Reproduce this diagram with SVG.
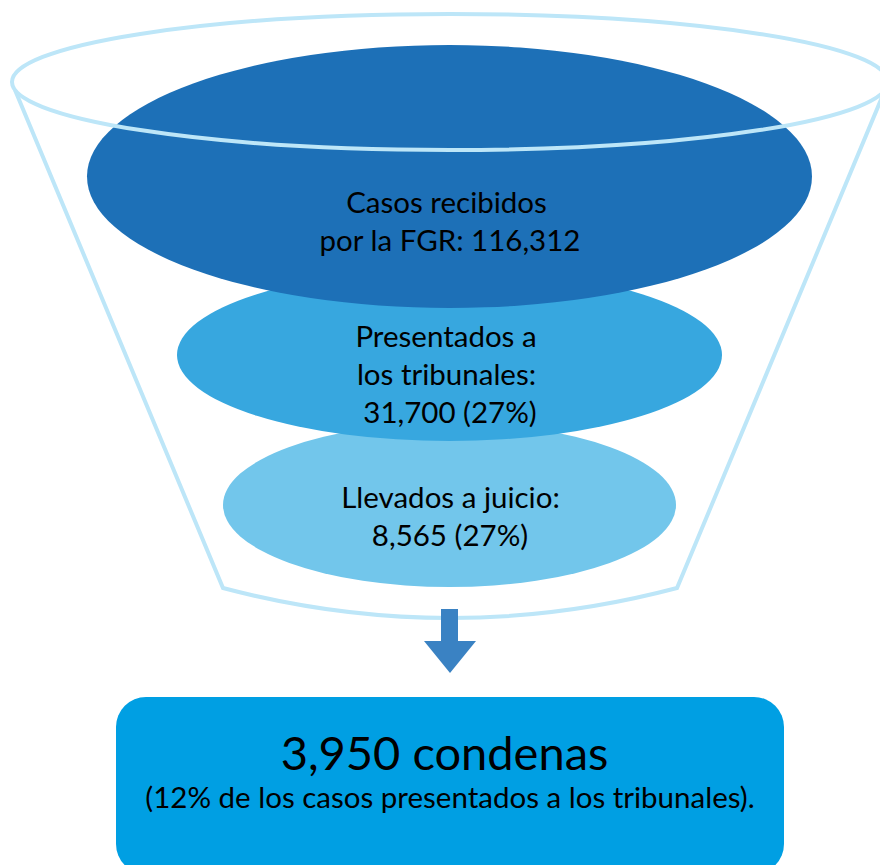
<svg xmlns="http://www.w3.org/2000/svg" width="880" height="865" viewBox="0 0 880 865">
<style>
.t{font-family:Lato,"Liberation Sans",sans-serif;fill:#000;text-anchor:middle}
.m{font-size:29.5px}
.rim{fill:none;stroke:#BDE6F8;stroke-width:4}
</style>
<rect width="880" height="865" fill="#fff"/>
<g id="funnel-body">
<path class="rim" d="M15,90 L223,588 Q450,648 677,588 L885,90"/>
</g>
<g id="stage3">
<ellipse cx="449.5" cy="505" rx="226.5" ry="82" fill="#72C6EB"/>
<text class="t m" x="450.5" y="508">Llevados a juicio:</text>
<text class="t m" x="450" y="546">8,565 (27%)</text>
</g>
<g id="stage2">
<ellipse cx="449.5" cy="355" rx="272.5" ry="86" fill="#37A7DF"/>
<text class="t m" x="446" y="347">Presentados a</text>
<text class="t m" x="446.5" y="385">los tribunales:</text>
<text class="t m" x="450" y="423">31,700 (27%)</text>
</g>
<g id="stage1">
<ellipse cx="449.5" cy="176.5" rx="362.5" ry="131.5" fill="#1D70B7"/>
<text class="t m" x="446.5" y="213">Casos recibidos</text>
<text class="t m" x="450" y="251">por la FGR: 116,312</text>
</g>
<g id="funnel-rim">
<ellipse class="rim" cx="450" cy="82" rx="438" ry="68"/>
</g>
<g id="connectors">
<path d="M441,609 H458 V641 L476,641 L450,673 L424,641 L441,641 Z" fill="#3A82C3"/>
</g>
<g id="result">
<rect x="116" y="697" width="668" height="177" rx="30" fill="#009FE3"/>
<text class="t" x="444.5" y="770" font-size="47">3,950 condenas</text>
<text class="t m" x="450" y="808">(12% de los casos presentados a los tribunales).</text>
</g>
</svg>
